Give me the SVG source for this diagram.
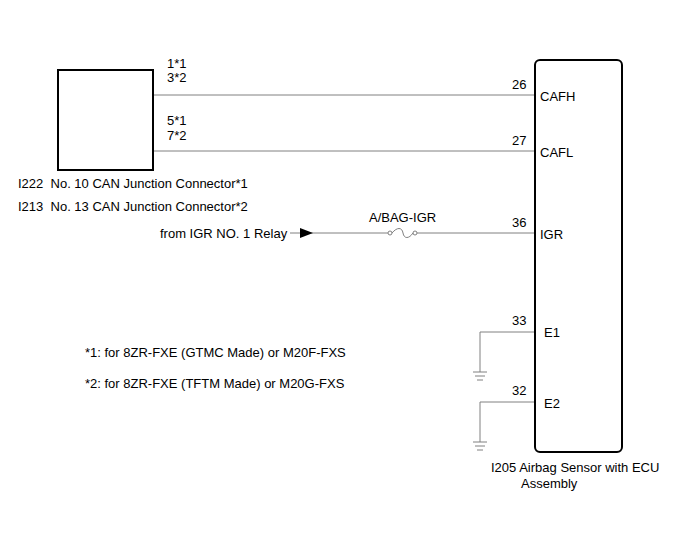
<svg xmlns="http://www.w3.org/2000/svg" width="688" height="560" viewBox="0 0 688 560">
<style>
text{font-family:"Liberation Sans",Arial,sans-serif;font-size:13px;fill:#000}
.w{stroke:#808080;stroke-width:1;fill:none}
.b{stroke:#000;stroke-width:2;fill:#fff}
</style>
<rect width="688" height="560" fill="#fff"/>
<g id="connectors">
<line class="w" x1="153" y1="95" x2="535" y2="95"/>
<line class="w" x1="153" y1="151" x2="535" y2="151"/>
<line class="w" x1="290" y1="233" x2="388" y2="233"/>
<line class="w" x1="417" y1="233" x2="535" y2="233"/>
<polygon points="300,228 313,233 300,238" fill="#000"/>
<circle cx="390" cy="233" r="2" fill="#fff" stroke="#808080"/>
<circle cx="415" cy="233" r="2" fill="#fff" stroke="#808080"/>
<path class="w" d="M392,233 C397,227 402,227 403,233 C404,239 409,239 413,233"/>
<polyline class="w" points="535,332 480,332 480,372"/>
<polyline class="w" points="535,402 480,402 480,442"/>
<g stroke="#808080"><line x1="473" y1="372" x2="487" y2="372"/><line x1="475" y1="376" x2="485" y2="376"/><line x1="477" y1="380" x2="483" y2="380"/>
<line x1="473" y1="442" x2="487" y2="442"/><line x1="475" y1="446" x2="485" y2="446"/><line x1="477" y1="450" x2="483" y2="450"/></g>
<text x="369" y="222">A/BAG-IGR</text>
<text x="160" y="238">from IGR NO. 1 Relay</text>
</g>
<g id="junction">
<rect class="b" x="58" y="70" width="95" height="100"/>
<text x="167" y="68">1*1</text><text x="167" y="82">3*2</text>
<text x="167" y="125">5*1</text><text x="167" y="140">7*2</text>
<text x="18" y="188" xml:space="preserve">I222  No. 10 CAN Junction Connector*1</text>
<text x="18" y="211" xml:space="preserve">I213  No. 13 CAN Junction Connector*2</text>
</g>
<g id="ecu">
<rect class="b" x="535" y="60" width="87" height="392" rx="5"/>
<text x="512" y="89">26</text><text x="540" y="101">CAFH</text>
<text x="512" y="145">27</text><text x="540" y="157">CAFL</text>
<text x="512" y="227">36</text><text x="540" y="239">IGR</text>
<text x="512" y="325">33</text><text x="544" y="337">E1</text>
<text x="512" y="395">32</text><text x="544" y="408">E2</text>
<text x="491" y="472">I205  Airbag Sensor with ECU</text>
<text x="521" y="488">Assembly</text>
</g>
<g id="notes">
<text x="85" y="357">*1: for 8ZR-FXE (GTMC Made) or M20F-FXS</text>
<text x="85" y="388">*2: for 8ZR-FXE (TFTM Made) or M20G-FXS</text>
</g>
</svg>
